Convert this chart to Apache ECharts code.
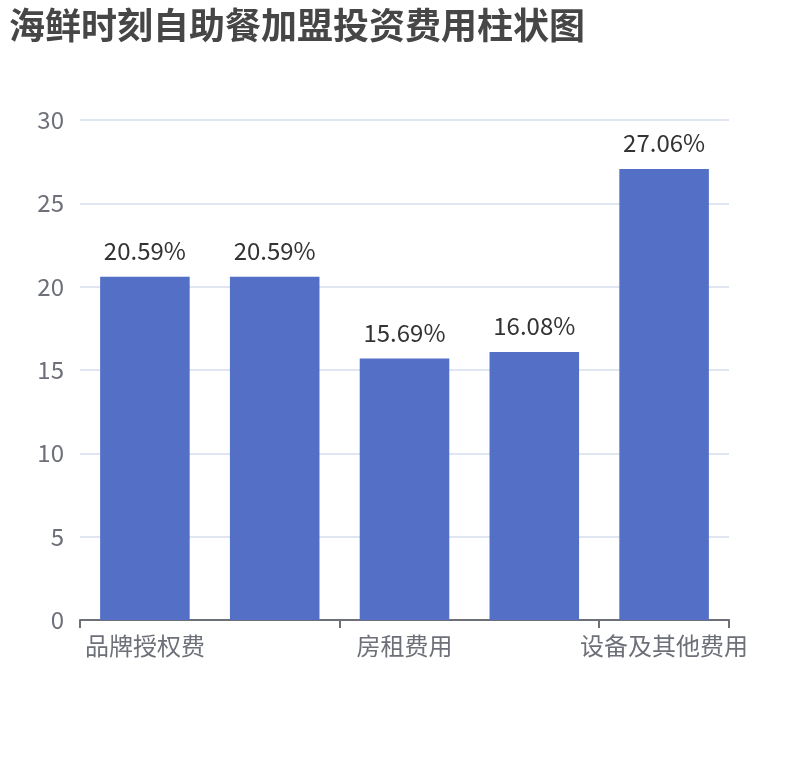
<!DOCTYPE html>
<html>
<head>
<meta charset="utf-8">
<script src="https://cdn.jsdelivr.net/npm/echarts@6/dist/echarts.min.js"></script>
<style>
  html, body { margin: 0; padding: 0; background: #fff; }
  #main { width: 810px; height: 760px; }
</style>
</head>
<body>
<div id="main"></div>
<script>
var chartTitle = '海鲜时刻自助餐加盟投资费用柱状图';
var categories = ['品牌授权费', '加盟费', '房租费用', '装修费用', '设备及其他费用'];
var values = [20.59, 20.59, 15.69, 16.08, 27.06];
var yTicks = { min: 0, max: 30, interval: 5 };

var FONT = '"Noto Sans CJK SC", "Noto Sans", sans-serif';

var myChart = echarts.init(document.getElementById('main'));

var option = {
    title: {
        text: chartTitle,
        left: 4,
        top: 2,
        textStyle: {
            fontFamily: FONT,
            fontSize: 36,
            fontWeight: 'bold',
            color: '#464646'
        }
    },
    grid: {
        left: 80,
        right: 81,
        top: 120,
        bottom: 140
    },
    xAxis: {
        type: 'category',
        data: categories,
        axisLine: { lineStyle: { color: '#6E7079', width: 2 } },
        axisTick: { show: true, length: 8, lineStyle: { width: 2 } },
        axisLabel: {
            fontFamily: FONT,
            fontSize: 24,
            color: '#6E7079',
            margin: 14
        }
    },
    yAxis: {
        type: 'value',
        min: yTicks.min,
        max: yTicks.max,
        interval: yTicks.interval,
        axisLabel: {
            fontFamily: FONT,
            fontSize: 24,
            color: '#6E7079',
            margin: 16
        },
        splitLine: { lineStyle: { color: '#E0E6F1', width: 2 } }
    },
    series: [
        {
            type: 'bar',
            data: values,
            barWidth: '69%',
            itemStyle: { color: '#5470C6' },
            label: {
                show: true,
                position: 'top',
                distance: 14,
                formatter: function (p) { return p.value.toFixed(2) + '%'; },
                fontFamily: FONT,
                fontSize: 24,
                color: '#333333'
            }
        }
    ]
};

myChart.setOption(option);
</script>
</body>
</html>
